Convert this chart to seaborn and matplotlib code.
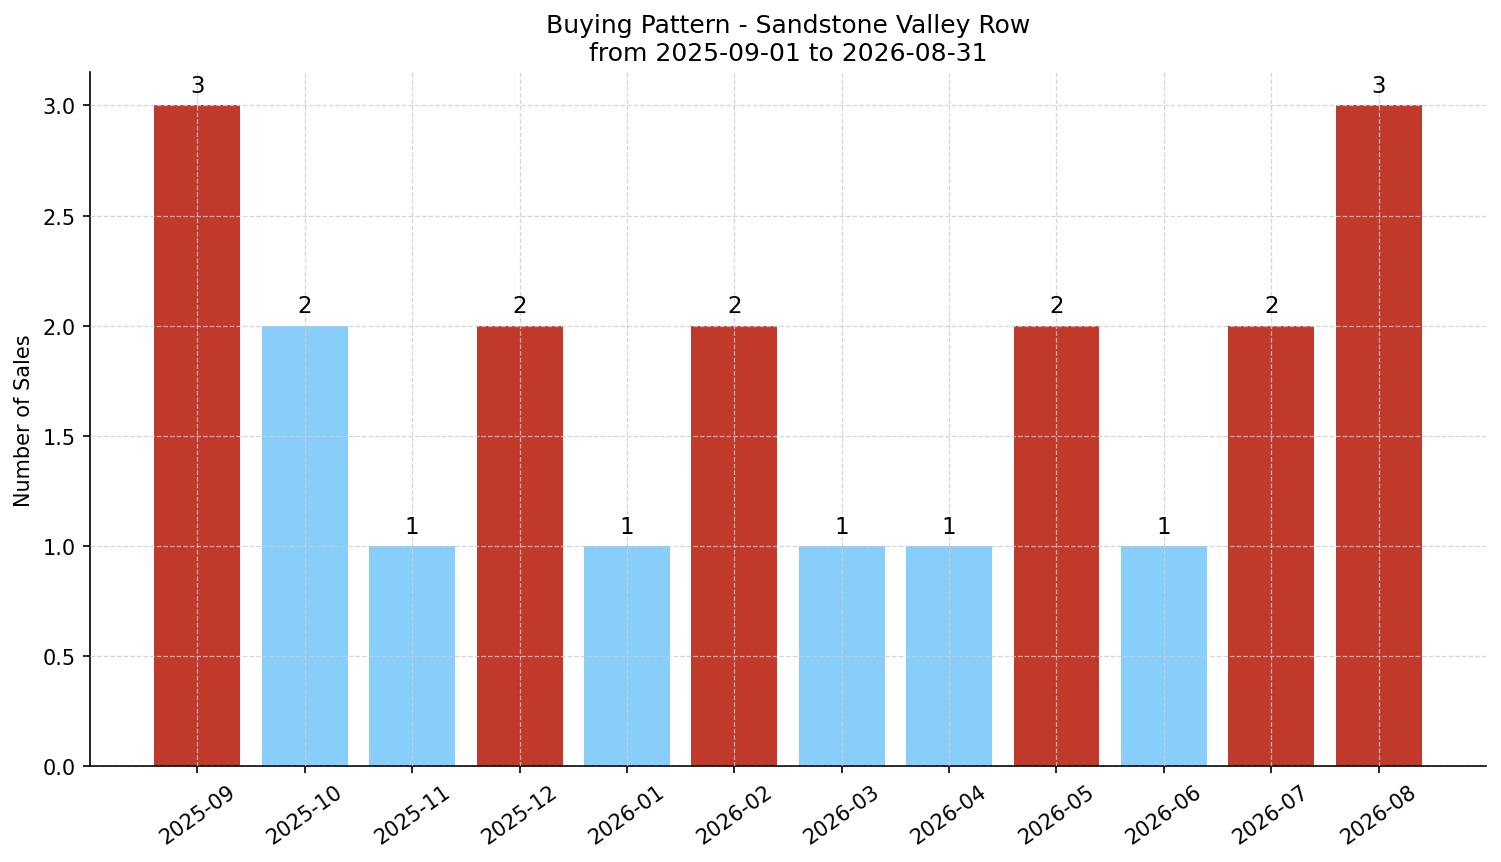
import matplotlib
matplotlib.use("Agg")
import matplotlib.pyplot as plt
import seaborn as sns
import pandas as pd

months = ["2025-09", "2025-10", "2025-11", "2025-12", "2026-01", "2026-02",
          "2026-03", "2026-04", "2026-05", "2026-06", "2026-07", "2026-08"]
sales = [3, 2, 1, 2, 1, 2, 1, 1, 2, 1, 2, 3]
colors = ["#C0392B", "#87CEFA", "#87CEFA", "#C0392B", "#87CEFA", "#C0392B",
          "#87CEFA", "#87CEFA", "#C0392B", "#87CEFA", "#C0392B", "#C0392B"]

plt.rcParams['font.family'] = ['DejaVu Sans']

df = pd.DataFrame({"month": months, "sales": sales})

fig, ax = plt.subplots(figsize=(10.0067, 5.7533), dpi=150)
fig.subplots_adjust(left=0.06, right=0.99, top=0.915, bottom=0.111)

sns.barplot(data=df, x="month", y="sales", hue="month", palette=colors,
            legend=False, width=0.8, saturation=1, linewidth=0, ax=ax)

for i, v in enumerate(sales):
    ax.annotate(str(v), (i, v), xytext=(0, 4), textcoords="offset points",
                ha="center", va="bottom", fontsize=11, color="black")

ax.set_xlim(-1, 12)
ax.set_ylim(0, 3.15)
ax.grid(True, linestyle="--", color="#cccccc", alpha=0.8, linewidth=0.6)
ax.set_axisbelow(False)
ax.set_xlabel("")
ax.set_ylabel("Number of Sales", fontsize=10)
ax.set_title("Buying Pattern - Sandstone Valley Row\nfrom 2025-09-01 to 2026-08-31", fontsize=12)
plt.setp(ax.get_xticklabels(), rotation=35)
ax.tick_params(labelsize=10)
sns.despine(ax=ax)

fig.savefig("out.png", dpi=150)
